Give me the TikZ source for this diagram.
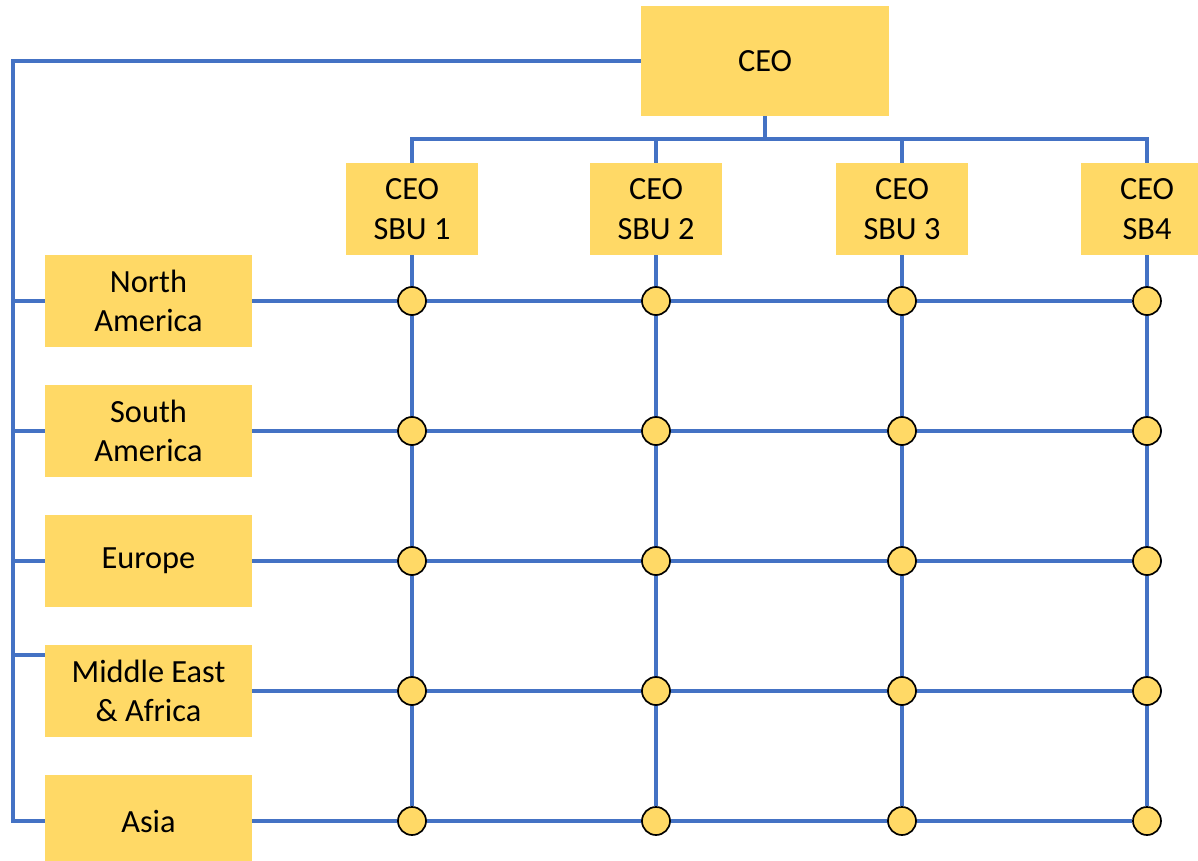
\documentclass[tikz,border=0pt]{standalone}
\usepackage{fontspec}
\setmainfont{Carlito}
\usetikzlibrary{positioning, calc, backgrounds}
\definecolor{boxyellow}{HTML}{FFD966}
\definecolor{lineblue}{HTML}{4472C4}
\tikzset{
    box/.style={fill=boxyellow, align=center, inner sep=0pt, font=\fontsize{23}{28}\selectfont},
    unit/.style={box, minimum width=3.3cm, minimum height=2.3cm},
    region/.style={box, minimum width=5.175cm, minimum height=2.3cm},
    dot/.style={circle, draw=black, fill=boxyellow, line width=1.2pt, minimum size=0.7cm, inner sep=0pt},
    wire/.style={draw=lineblue, line width=2.2pt}
}

\begin{document}
\begin{tikzpicture}[x=0.025cm, y=-0.025cm]
                \useasboundingbox (0,0) rectangle (1198,861);
                \node[box, minimum width=6.2cm, minimum height=2.75cm] (ceo) at (765,61) {CEO};
                \node[unit] (sbu1) at (412,209) {CEO\\SBU 1};
                \node[unit] (sbu2) at (656,209) {CEO\\SBU 2};
                \node[unit] (sbu3) at (902,209) {CEO\\SBU 3};
                \node[unit] (sbu4) at (1147,209) {CEO\\SB4};
                \node[region] (na) at (148.5,301) {North\\America};
                \node[region] (sa) at (148.5,431) {South\\America};
                \node[region] (eu) at (148.5,561) {Europe};
                \node[region] (me) at (148.5,691) {Middle East\\\& Africa};
                \node[region] (asia) at (148.5,821) {Asia};
                \foreach \x [count=\i] in {412,656,902,1147}
                    \foreach \y [count=\j] in {301,431,561,691,821}
                        \node[dot] (c-\i-\j) at (\x,\y) {};
                \coordinate (bus) at (765,139);
                \coordinate (spine) at (13,61);
                \begin{scope}[on background layer]
                \draw[wire] (ceo.south) -- (bus);
                \draw[wire] (sbu1.north) |- (bus) -| (sbu4.north);
                \draw[wire] (sbu2.north) -- (sbu2.north |- bus);
                \draw[wire] (sbu3.north) -- (sbu3.north |- bus);
                \draw[wire] (ceo.west) -- (spine) |- (asia.west);
                \draw[wire] (na.west) -- (na.west -| spine);
                \draw[wire] (sa.west) -- (sa.west -| spine);
                \draw[wire] (eu.west) -- (eu.west -| spine);
                \draw[wire] ($(me.west)+(0,-36)$) -- ($(me.west -| spine)+(0,-36)$);
                \draw[wire] (sbu1.south) -- (c-1-5);
                \draw[wire] (sbu2.south) -- (c-2-5);
                \draw[wire] (sbu3.south) -- (c-3-5);
                \draw[wire] (sbu4.south) -- (c-4-5);
                \draw[wire] (na.east) -- (c-4-1);
                \draw[wire] (sa.east) -- (c-4-2.east);
                \draw[wire] (eu.east) -- (c-4-3.east);
                \draw[wire] (me.east) -- (c-4-4.east);
                \draw[wire] (asia.east) -- (c-4-5);
                \end{scope}
\end{tikzpicture}
\end{document}
